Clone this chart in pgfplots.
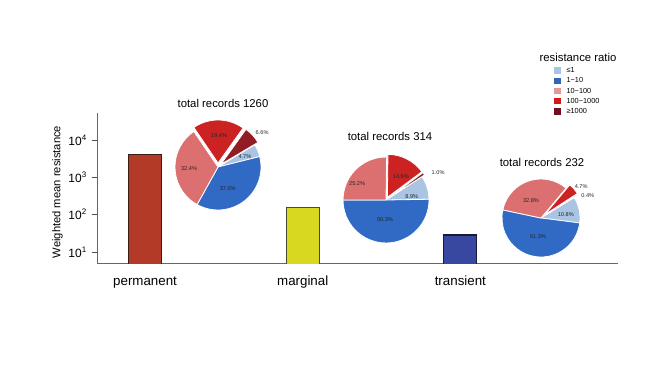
\documentclass[border=0pt]{standalone}
\usepackage{fontspec}
\setmainfont{Liberation Sans}
\usepackage{pgfplots}
\pgfplotsset{compat=1.18}

\definecolor{cperm}{HTML}{B33A26}
\definecolor{cpermd}{HTML}{3A1E16}
\definecolor{cmarg}{HTML}{D8D820}
\definecolor{cmargd}{HTML}{4A4A30}
\definecolor{ctran}{HTML}{3848A0}
\definecolor{ctrand}{HTML}{1A1A30}
\definecolor{plb}{HTML}{A9C5E3}
\definecolor{pbl}{HTML}{306AC4}
\definecolor{ppk}{HTML}{DC7070}
\definecolor{prd}{HTML}{CC2222}
\definecolor{pdr}{HTML}{921C24}
\definecolor{llb}{HTML}{A9C5E6}
\definecolor{lbl}{HTML}{2E65B8}
\definecolor{lpk}{HTML}{E09A9C}
\definecolor{lrd}{HTML}{D81818}
\definecolor{ldr}{HTML}{6E1020}

\newcommand{\pielabfont}{\fontsize{4.2}{4.2}\selectfont}
% #1 cx px, #2 cy px, #3 radius px, #4 start angle, #5 list value/colour/explode px/label angle/label dist px
\newcommand{\drawpie}[5]{%
  \begin{scope}[shift={({#1*0.75pt},{-#2*0.75pt})}]
    \xdef\astart{#4}%
    \foreach \v/\c/\e/\la/\ld in {#5}{%
      \pgfmathsetmacro\aend{\astart-3.6*\v}%
      \pgfmathsetmacro\amid{(\astart+\aend)/2}%
      \fill[fill=\c, draw=white, line width=0.6pt] (\amid:{\e*0.75pt}) -- ++(\astart:{#3*0.75pt}) arc[start angle=\astart, end angle=\aend, radius={#3*0.75pt}] -- cycle;
      \xdef\astart{\aend}%
    }
    \foreach \v/\c/\e/\la/\ld in {#5}{%
      \node[font=\pielabfont, inner sep=0pt, text=black!85] at (\la:{\ld*0.75pt}) {\v\%};
    }
  \end{scope}}

\begin{document}
\begin{tikzpicture}
\useasboundingbox (0,0) rectangle (495.75pt,-278.25pt);
\begin{axis}[
  at={(72.75pt,-197.25pt)}, anchor=south west,
  scale only axis, width=390.75pt, height=112.5pt,
  xmin=-0.305, xmax=3.0,
  ymode=log, ymin=5.07, ymax=5.3e4,
  axis x line*=bottom, axis y line*=left,
  axis line style={black!60, line width=0.7pt},
  xtick={0,1,2}, xticklabels={permanent,marginal,transient},
  x tick style={draw=none},
  xticklabel style={font=\fontsize{10}{12}\selectfont, anchor=base, yshift=-13pt},
  ytick={10,100,1000,10000},
  yticklabels={10\textsuperscript{1},10\textsuperscript{2},10\textsuperscript{3},10\textsuperscript{4}},
  yminorticks=false,
  y tick style={black!70, line width=0.6pt},
  tick align=outside, major tick length=4pt,
  yticklabel style={font=\fontsize{9}{10}\selectfont},
  ylabel={Weighted mean resistance},
  every axis y label/.style={at={(axis description cs:-0.0758,0.473)}, rotate=90, anchor=center, font=\fontsize{8.4}{10}\selectfont},
  legend style={at={(axis description cs:0.877,1.313)}, anchor=north west, draw=none, fill=none,
    inner sep=0pt, font=\fontsize{5.5}{6}\selectfont, row sep=1.9pt,
    nodes={inner sep=0.6pt, text height=4pt, text depth=0.6pt},
    /tikz/every odd column/.style={column sep=4.2pt}},
  legend cell align=left,
]
\addplot[ybar, bar width=24.75pt, bar shift=0pt, fill=cperm, draw=cpermd, line width=0.9pt, forget plot] coordinates {(0,4200)};
\addplot[ybar, bar width=24.75pt, bar shift=0pt, fill=cmarg, draw=cmargd, line width=0.9pt, forget plot] coordinates {(1,155)};
\addplot[ybar, bar width=24.75pt, bar shift=0pt, fill=ctran, draw=ctrand, line width=0.9pt, forget plot] coordinates {(2,28.6)};
\addlegendimage{legend image code/.code={\fill[llb] (0pt,-2pt) rectangle (4.1pt,2pt);}}
\addlegendentry{≤1}
\addlegendimage{legend image code/.code={\fill[lbl] (0pt,-2pt) rectangle (4.1pt,2pt);}}
\addlegendentry{1−10}
\addlegendimage{legend image code/.code={\fill[lpk] (0pt,-2pt) rectangle (4.1pt,2pt);}}
\addlegendentry{10−100}
\addlegendimage{legend image code/.code={\fill[lrd] (0pt,-2pt) rectangle (4.1pt,2pt);}}
\addlegendentry{100−1000}
\addlegendimage{legend image code/.code={\fill[ldr] (0pt,-2pt) rectangle (4.1pt,2pt);}}
\addlegendentry{≥1000}
\end{axis}

\node[font=\fontsize{8.5}{10}\selectfont] at ({578*0.75pt},{-57*0.75pt}) {resistance ratio};

\drawpie{218}{167}{43}{31}{4.7/plb/0/22/29, 37.0/pbl/0/-66/24, 32.4/ppk/0/184/29, 19.4/prd/4/88/31, 6.6/pdr/4/38/56}
\drawpie{386}{200}{43}{33}{8.9/plb/0/7/26, 50.3/pbl/0/-93/20, 25.2/ppk/0/151/33, 14.6/prd/3/58/28, 1.0/pdr/3/28/59}
\drawpie{541}{218}{39}{31.6}{10.8/plb/0/7/25, 51.3/pbl/0/-99/19, 32.8/ppk/0/120/20, 4.7/prd/5/38/51, 0.4/pdr/5/26/52}

\node[font=\fontsize{8.5}{10}\selectfont] at ({223*0.75pt},{-103*0.75pt}) {total records 1260};
\node[font=\fontsize{8.5}{10}\selectfont] at ({390*0.75pt},{-136*0.75pt}) {total records 314};
\node[font=\fontsize{8.5}{10}\selectfont] at ({542*0.75pt},{-162*0.75pt}) {total records 232};
\end{tikzpicture}
\end{document}
